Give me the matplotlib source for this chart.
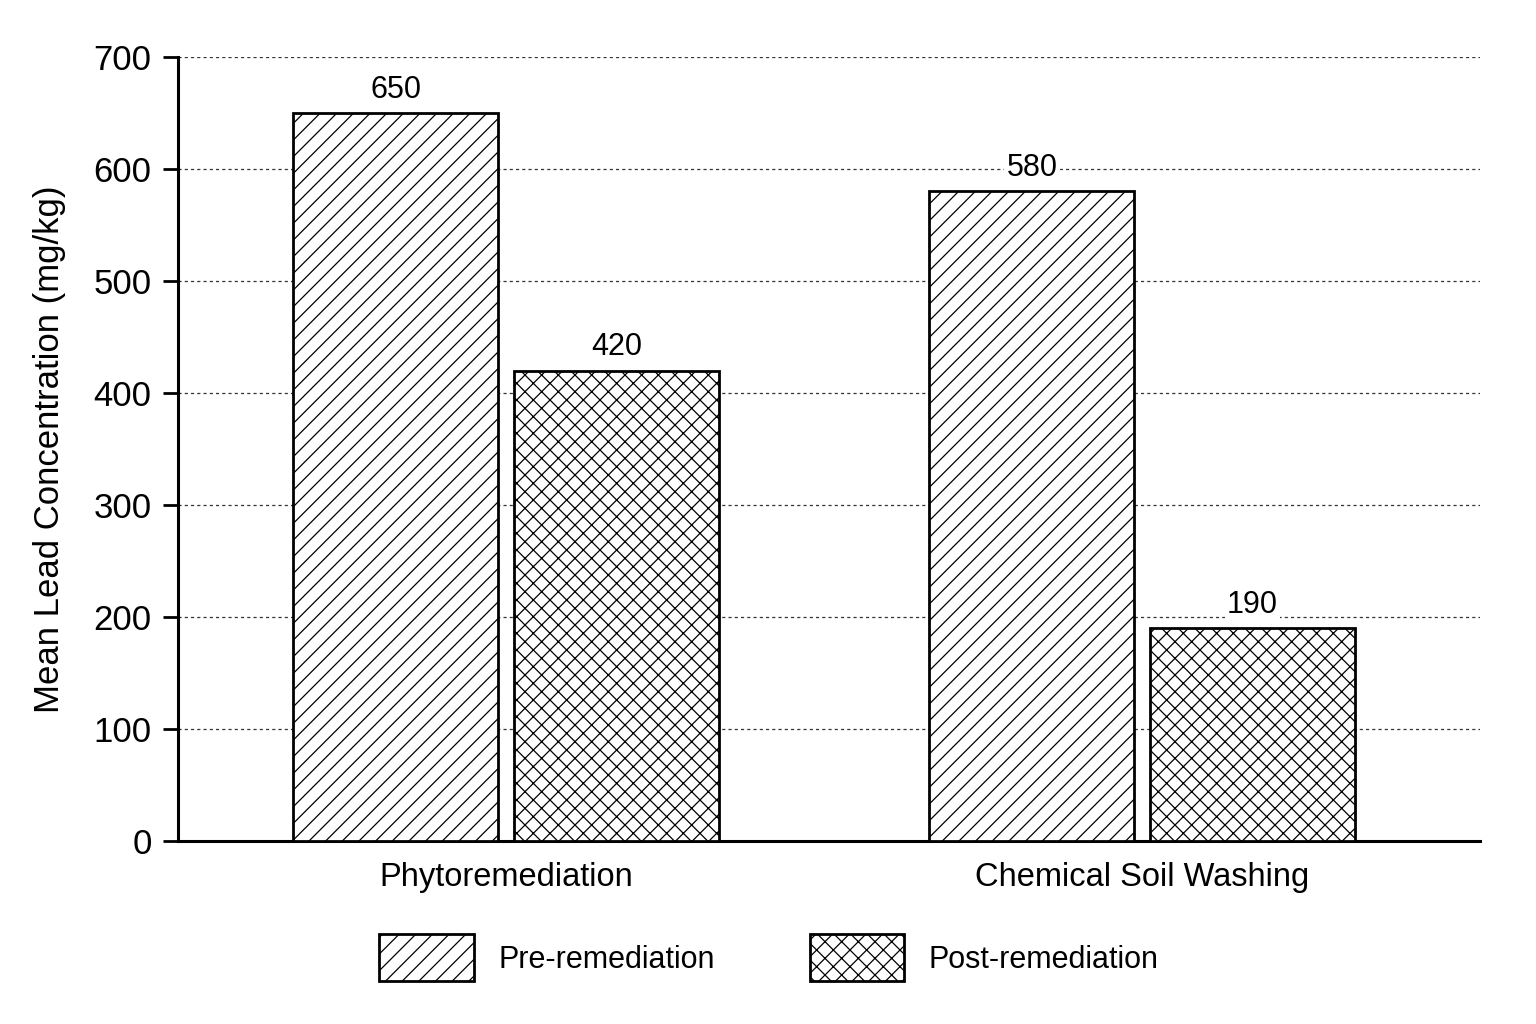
import numpy as np
import matplotlib
matplotlib.use('Agg')
import matplotlib.pyplot as plt

# Chart data
categories = ['Phytoremediation', 'Chemical Soil Washing']
series_names = ['Pre-remediation', 'Post-remediation']
pre_values = [650, 580]
post_values = [420, 190]
y_ticks = [0, 100, 200, 300, 400, 500, 600, 700]

plt.rcParams['font.family'] = ['Liberation Sans', 'DejaVu Sans']
plt.rcParams['hatch.linewidth'] = 0.9

fig = plt.figure(figsize=(15.36, 10.24), dpi=100)
ax = fig.add_axes([0.1159, 0.1787, 0.8476, 0.7656])

x = np.arange(len(categories))
width = 0.322
offset = 0.1735

bars_pre = ax.bar(x - offset, pre_values, width, facecolor='white', edgecolor='black',
                  linewidth=2.0, hatch='//', label=series_names[0], zorder=3)
bars_post = ax.bar(x + offset, post_values, width, facecolor='white', edgecolor='black',
                   linewidth=2.0, hatch='xx', label=series_names[1], zorder=3)

# Value labels on top of bars
for bars in (bars_pre, bars_post):
    for b in bars:
        ax.annotate(f'{int(b.get_height())}', (b.get_x() + b.get_width() / 2, b.get_height()),
                    xytext=(0, 6), textcoords='offset points', ha='center', va='bottom',
                    fontsize=22, zorder=4,
                    bbox=dict(facecolor='white', edgecolor='none', pad=1.5))

ax.set_xlim(-0.516, 1.531)
ax.set_ylim(0, 700)
ax.set_yticks(y_ticks)
ax.set_xticks(x)
ax.set_xticklabels(categories, fontsize=23.5)
ax.tick_params(axis='x', length=0, pad=15)
ax.tick_params(axis='y', length=11, width=2, labelsize=25, pad=8)
ax.set_ylabel('Mean Lead Concentration (mg/kg)', fontsize=25, labelpad=20)

ax.yaxis.grid(True, linestyle=(0, (2.5, 2.5)), color='#333333', linewidth=0.9, zorder=0)
ax.set_axisbelow(True)

for side in ('top', 'right'):
    ax.spines[side].set_visible(False)
for side in ('left', 'bottom'):
    ax.spines[side].set_linewidth(2.2)

leg = ax.legend(loc='center', bbox_to_anchor=(0.454, -0.149), ncol=2, frameon=False,
                fontsize=22, handlelength=3.1, handleheight=2.0, handletextpad=0.8,
                columnspacing=3.1)
for patch in leg.get_patches():
    patch.set_linewidth(2.0)

fig.savefig('out.png', dpi=100, facecolor='white')
